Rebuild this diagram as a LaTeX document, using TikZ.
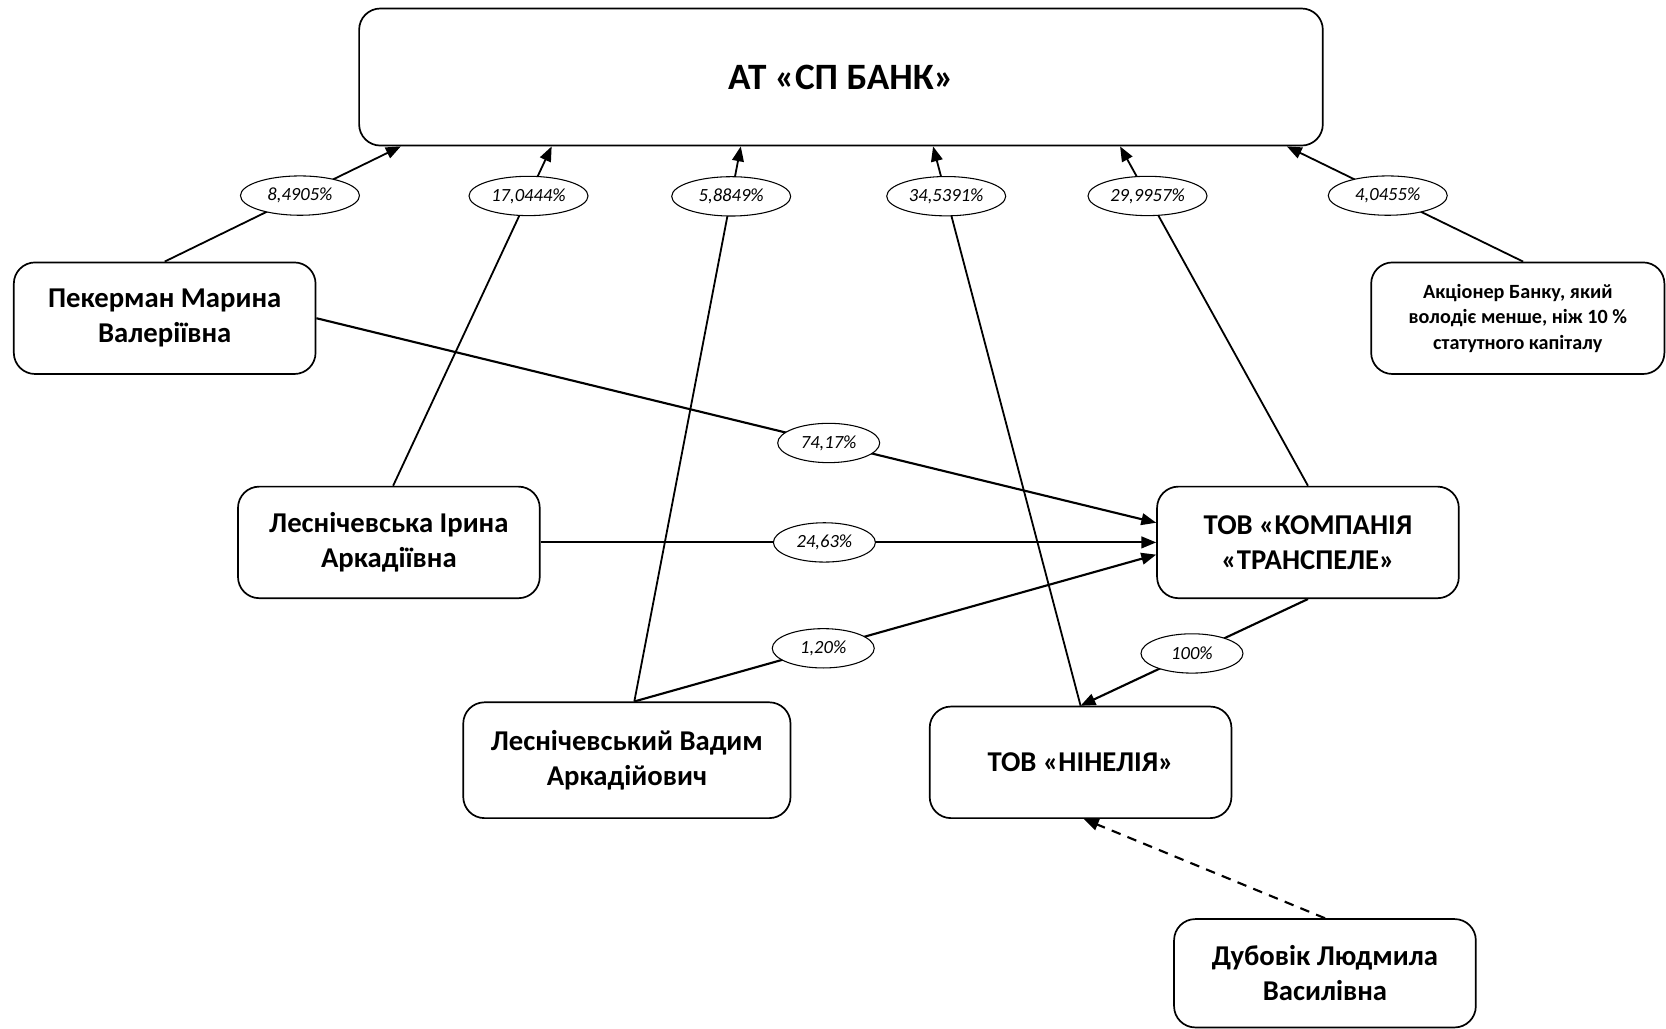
\documentclass[tikz,border=0pt]{standalone}
\usepackage{fontspec}
\setmainfont{Carlito}
\usetikzlibrary{arrows.meta,shapes.geometric}
\tikzset{
  box/.style={draw, line width=1.6pt, rounded corners=20pt, align=center, font=\fontsize{27}{33}\selectfont\bfseries, inner sep=0pt},
  lbl/.style={draw, ellipse, fill=white, line width=1pt, inner sep=0pt, minimum width=112pt, minimum height=37pt, font=\fontsize{17.5}{20}\selectfont\itshape},
  lbls/.style={lbl, minimum width=96pt},
  conn/.style={line width=2pt, -{Triangle[length=14pt,width=11pt]}},
  connb/.style={line width=1.7pt, -{Triangle[length=14pt,width=11pt]}}
}
\begin{document}
\begin{tikzpicture}[x=1pt,y=-1pt]
\useasboundingbox (0,0) rectangle (1568,968);
\node[box, minimum width=907pt, minimum height=129pt, font=\fontsize{35}{40}\selectfont\bfseries] (bank) at (791.5,72.5) {АТ «СП БАНК»};
\node[box, minimum width=284pt, minimum height=105pt] (pek) at (155,299.5) {Пекерман Марина\\Валеріївна};
\node[box, minimum width=276pt, minimum height=105pt, font=\fontsize{19}{24}\selectfont\bfseries] (akc) at (1428.5,299.5) {Акціонер Банку, який\\володіє менше, ніж 10 \%\\статутного капіталу};
\node[box, minimum width=284pt, minimum height=105pt] (les) at (366,510.5) {Леснічевська Ірина\\Аркадіївна};
\node[box, minimum width=284pt, minimum height=105pt] (tra) at (1231,510.5) {ТОВ «КОМПАНІЯ\\«ТРАНСПЕЛЕ»};
\node[box, minimum width=308pt, minimum height=109pt] (vad) at (590,715.5) {Леснічевський Вадим\\Аркадійович};
\node[box, minimum width=284pt, minimum height=105pt] (nin) at (1017,717.5) {ТОВ «НІНЕЛІЯ»};
\node[box, minimum width=284pt, minimum height=102pt] (dub) at (1247,916) {Дубовік Людмила\\Василівна};

\draw[connb] (pek.north) -- node[lbl, pos=0.573] (l1) {8,4905\%} ([xshift=40pt]bank.south west);
\draw[connb] ([xshift=4pt]les.north) -- node[lbl, pos=0.854] (l2) {17,0444\%} ([xshift=182pt]bank.south west);
\draw[connb] ([xshift=7pt]vad.north) -- node[lbl, pos=0.91] (l3) {5,8849\%} ([xshift=360pt]bank.south west);
\draw[connb] (nin.north) -- node[lbl, pos=0.911] (l4) {34,5391\%} ([xshift=541pt]bank.south west);
\draw[connb] (tra.north) -- node[lbl, pos=0.854] (l5) {29,9957\%} ([xshift=717pt]bank.south west);
\draw[connb] ([xshift=5pt]akc.north) -- node[lbl, pos=0.573] (l6) {4,0455\%} ([xshift=874pt]bank.south west);

\draw[conn] (pek.east) -- node[lbls, pos=0.61] (l7) {74,17\%} ([yshift=18.5pt]tra.west);
\draw[conn] (les.east) -- node[lbls, pos=0.461] (l8) {24,63\%} (tra.west);
\draw[conn] ([xshift=7pt]vad.north) -- node[lbls, pos=0.362] (l9) {1,20\%} ([yshift=-11.5pt]tra.west);
\draw[conn] (tra.south) -- node[lbls, pos=0.51] (l10) {100\%} (nin.north);
\draw[conn, dashed, dash pattern=on 9pt off 7pt] (dub.north) -- ([xshift=3pt]nin.south);
\end{tikzpicture}
\end{document}
